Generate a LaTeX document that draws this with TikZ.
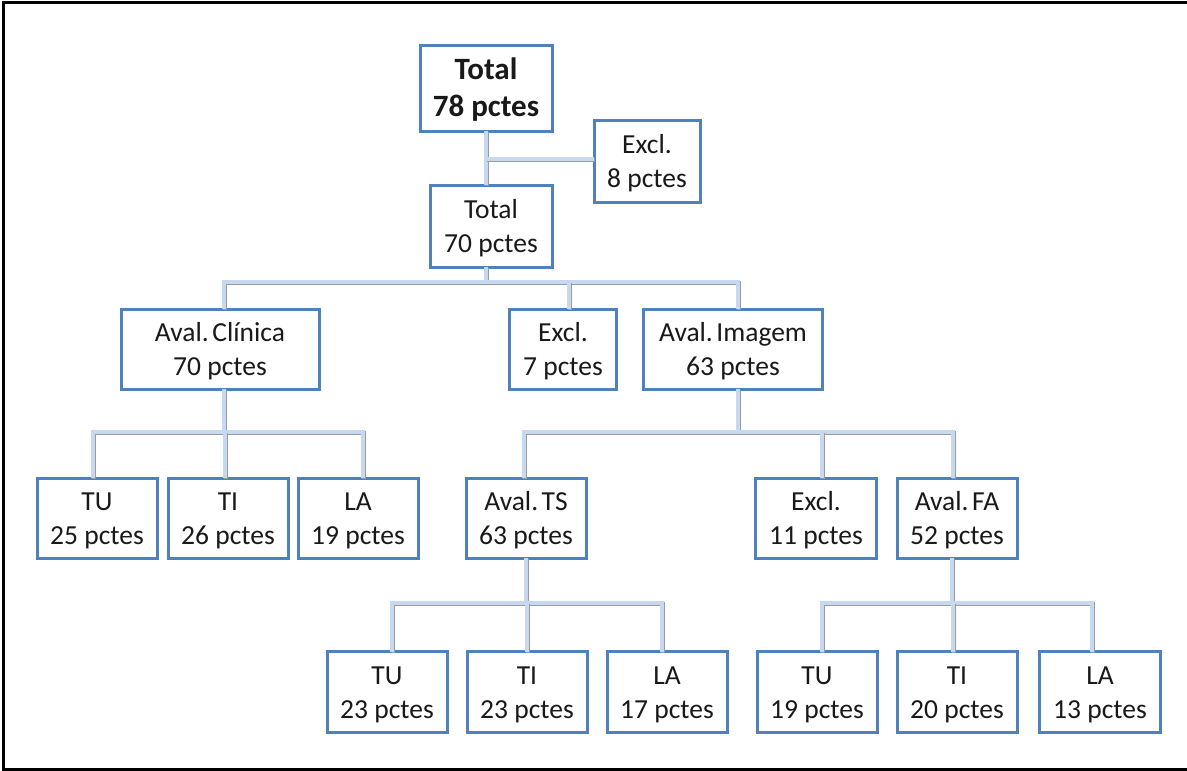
\documentclass[tikz,border=0pt]{standalone}
\usepackage{fontspec}
\setmainfont{Carlito}
\definecolor{boxblue}{HTML}{4F81BD}
\definecolor{connblue}{HTML}{C6D9F1}
\definecolor{connshade}{HTML}{9C9C9C}
\newcommand\bxt[2]{\raisebox{-3pt}[\height][\depth]{\begin{tabular}{@{}c@{}}#1\\#2\end{tabular}}}
\begin{document}
\begin{tikzpicture}[x=1pt,y=-1pt,
  box/.style={draw=boxblue, line width=3pt, fill=white, rectangle, inner sep=0pt,
    align=center, font=\fontsize{27.5}{34}\selectfont, text=black!90},
  conn/.style={draw=connblue, line width=4.5pt, line cap=butt, line join=miter,
    preaction={draw=connshade, line width=4.5pt, transform canvas={shift={(0.9pt,-1.1pt)}}}}]
\useasboundingbox (0,0) rectangle (1187,771);
\fill[white] (0,0) rectangle (1187,771);
\draw[black, line width=3pt] (1190,2) -- (3,2) -- (3,769.5) -- (1190,769.5);

\coordinate (bar0) at (0,159);
\coordinate (bar1) at (0,282);
\coordinate (bar2) at (0,432);
\coordinate (bar3) at (0,603);

\node[box, minimum width=132pt, minimum height=86pt, font=\bfseries\fontsize{31}{37}\selectfont] (t78) at (486,88) {\bxt{Total}{78 pctes}};
\node[box, minimum width=106pt, minimum height=82pt] (ex8) at (647,161) {\bxt{Excl.}{8 pctes}};
\node[box, minimum width=122pt, minimum height=82pt] (t70) at (491,226) {\bxt{Total}{70 pctes}};

\node[box, minimum width=198pt, minimum height=80pt] (ac) at (220,349) {\bxt{Aval.\hspace{0.13em}Clínica}{70 pctes}};
\node[box, minimum width=107pt, minimum height=80pt] (ex7) at (563,349) {\bxt{Excl.}{7 pctes}};
\node[box, minimum width=179pt, minimum height=80pt] (ai) at (733,349) {\bxt{Aval.\hspace{0.13em}Imagem}{63 pctes}};

\node[box, minimum width=120pt, minimum height=80pt] (tu25) at (97,518) {\bxt{TU}{25 pctes}};
\node[box, minimum width=120pt, minimum height=80pt] (ti26) at (228,518) {\bxt{TI}{26 pctes}};
\node[box, minimum width=120pt, minimum height=80pt] (la19) at (358,518) {\bxt{LA}{19 pctes}};
\node[box, minimum width=120pt, minimum height=80pt] (ts) at (526,518) {\bxt{Aval.\hspace{0.13em}TS}{63 pctes}};
\node[box, minimum width=121pt, minimum height=80pt] (ex11) at (816,518) {\bxt{Excl.}{11 pctes}};
\node[box, minimum width=120pt, minimum height=80pt] (fa) at (957,518) {\bxt{Aval.\hspace{0.13em}FA}{52 pctes}};

\node[box, minimum width=120pt, minimum height=81pt] (tu23) at (387,692) {\bxt{TU}{23 pctes}};
\node[box, minimum width=120pt, minimum height=81pt] (ti23) at (527,692) {\bxt{TI}{23 pctes}};
\node[box, minimum width=120pt, minimum height=81pt] (la17) at (667,692) {\bxt{LA}{17 pctes}};
\node[box, minimum width=120pt, minimum height=81pt] (tu19) at (817,692) {\bxt{TU}{19 pctes}};
\node[box, minimum width=120pt, minimum height=81pt] (ti20) at (957,692) {\bxt{TI}{20 pctes}};
\node[box, minimum width=121pt, minimum height=81pt] (la13) at (1100,692) {\bxt{LA}{13 pctes}};

% connectors
\draw[conn] ([yshift=1.5pt]t78.south) -- ([yshift=-1.5pt]t78.south |- t70.north);
\draw[conn] (t78.south |- bar0) -- ([xshift=1.5pt]ex8.west |- bar0);

\draw[conn] ([xshift=-5pt,yshift=1.5pt]t70.south) -- ([xshift=-5pt]t70.south |- bar1);
\draw[conn] ([xshift=4pt,yshift=-1.5pt]ac.north) -- ([xshift=4pt]ac.north |- bar1) -- ([xshift=5pt]ai.north |- bar1) -- ([xshift=5pt,yshift=-1.5pt]ai.north);
\draw[conn] ([xshift=6pt,yshift=-1.5pt]ex7.north) -- ([xshift=6pt]ex7.north |- bar1);

\draw[conn] ([xshift=4pt,yshift=1.5pt]ac.south) -- ([xshift=4pt]ac.south |- bar2);
\draw[conn] ([xshift=-4pt,yshift=-1.5pt]tu25.north) -- ([xshift=-4pt]tu25.north |- bar2) -- ([xshift=5pt]la19.north |- bar2) -- ([xshift=5pt,yshift=-1.5pt]la19.north);
\draw[conn] ([xshift=-3pt,yshift=-1.5pt]ti26.north) -- ([xshift=-3pt]ti26.north |- bar2);

\draw[conn] ([xshift=5pt,yshift=1.5pt]ai.south) -- ([xshift=5pt]ai.south |- bar2);
\draw[conn] ([xshift=-2pt,yshift=-1.5pt]ts.north) -- ([xshift=-2pt]ts.north |- bar2) -- ([xshift=-4pt]fa.north |- bar2) -- ([xshift=-4pt,yshift=-1.5pt]fa.north);
\draw[conn] ([xshift=6pt,yshift=-1.5pt]ex11.north) -- ([xshift=6pt]ex11.north |- bar2);

\draw[conn] ([yshift=1.5pt]ts.south) -- (ts.south |- bar3);
\draw[conn] ([xshift=5pt,yshift=-1.5pt]tu23.north) -- ([xshift=5pt]tu23.north |- bar3) -- ([xshift=-5pt]la17.north |- bar3) -- ([xshift=-5pt,yshift=-1.5pt]la17.north);
\draw[conn] ([yshift=-1.5pt]ti23.north) -- (ti23.north |- bar3);

\draw[conn] ([xshift=-5pt,yshift=1.5pt]fa.south) -- ([xshift=-5pt]fa.south |- bar3);
\draw[conn] ([xshift=5pt,yshift=-1.5pt]tu19.north) -- ([xshift=5pt]tu19.north |- bar3) -- ([xshift=-8pt]la13.north |- bar3) -- ([xshift=-8pt,yshift=-1.5pt]la13.north);
\draw[conn] ([xshift=-4pt,yshift=-1.5pt]ti20.north) -- ([xshift=-4pt]ti20.north |- bar3);
\end{tikzpicture}
\end{document}
